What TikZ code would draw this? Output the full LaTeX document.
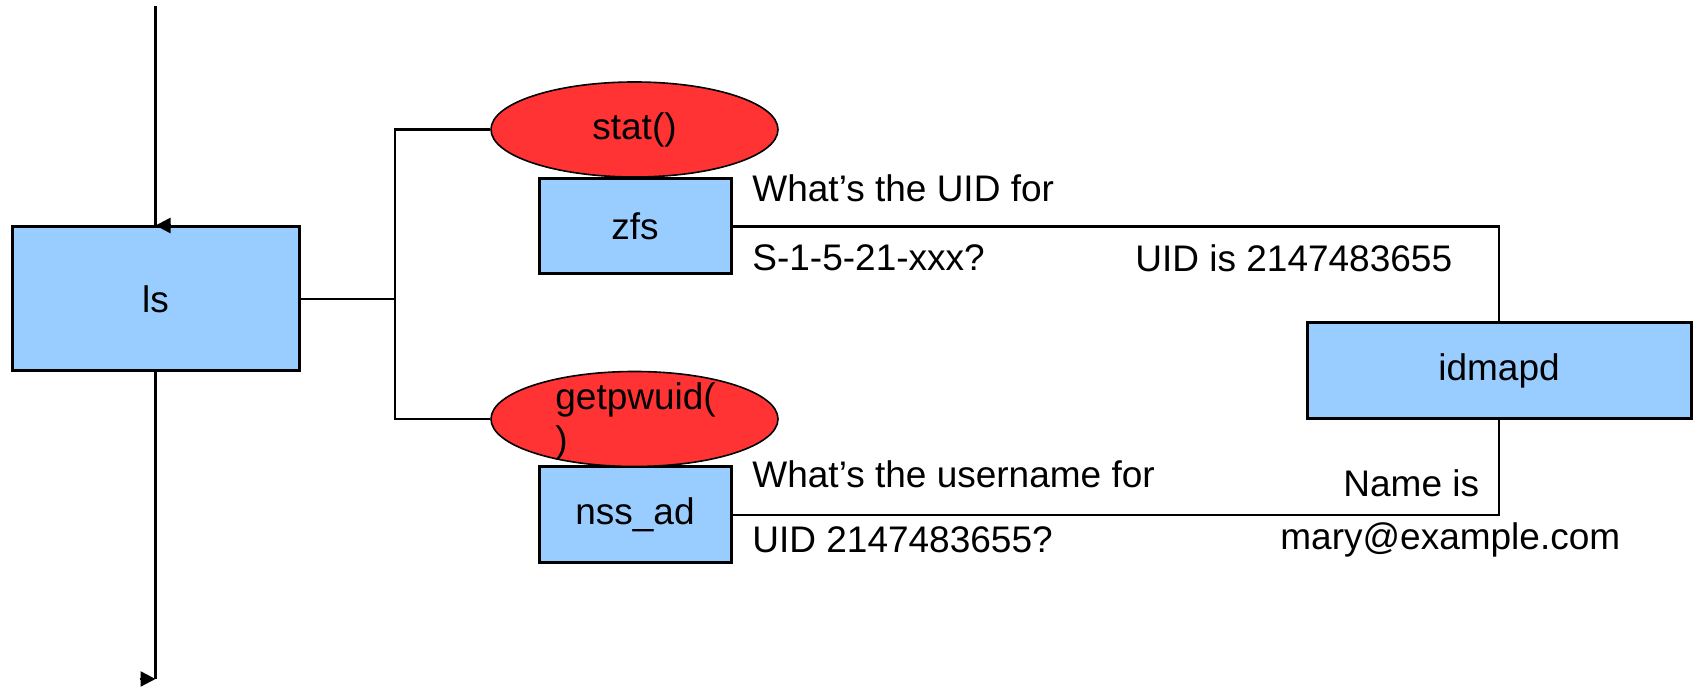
\documentclass[tikz,border=0pt]{standalone}
\usepackage{fontspec}
\setmainfont{Liberation Sans}
\usetikzlibrary{shapes.geometric,arrows.meta}
\definecolor{procblue}{RGB}{153,204,255}
\definecolor{callred}{RGB}{255,51,51}
\tikzset{
  proc/.style={draw=black, line width=1.5pt, fill=procblue, rectangle, inner sep=0pt},
  call/.style={draw=black, line width=0.8pt, fill=callred, ellipse, inner sep=0pt,
               minimum width=143.5pt, minimum height=47.5pt},
  wire/.style={draw=black, line width=1.25pt},
  note/.style={anchor=base west, inner sep=0pt},
  tip/.style={wire, -{Triangle[length=7.5pt,width=7.5pt]}},
}
\begin{document}
\begin{tikzpicture}[x=0.5pt, y=-0.5pt, font=\fontsize{18.5}{22}\selectfont]
\useasboundingbox (0,0) rectangle (1698,688);

% processes
\node[proc, minimum width=143.5pt, minimum height=72pt] (ls) at (155.5,299) {ls};
\node[proc, minimum width=96pt, minimum height=47.5pt] (zfs) at (635,226.5) {zfs};
\node[proc, minimum width=96pt, minimum height=48pt] (nss) at (635,515) {nss\_ad};
\node[proc, minimum width=192pt, minimum height=48pt] (idmapd) at (1499,371) {idmapd};

% system calls
\node[call] (stat) at (634.5,129.5) {stat()};
\node[call] (getpw) at (634.5,419) {};
\node[note] (getpwa) at (555,410) {getpwuid(};
\node[note] (getpwb) at (555,453) {)};

% main flow of ls
\coordinate (top) at (155.5,6);
\coordinate (bot) at (155.5,679);
\draw[wire] (top) -- (ls.north);
\draw[tip] ([xshift=7.5pt]ls.north) -- (ls.north);
\draw[wire] (ls.south) -- (bot);
\draw[tip] ([xshift=-8pt]bot) -- (bot);

% branches to the calls
\coordinate (j) at (395,299);
\draw[wire] (ls.east) -- (j);
\draw[wire] (stat.west) -| (j) |- (getpw.west);

% lookups through idmapd
\draw[wire] (zfs.east) -| (idmapd.north);
\draw[wire] (nss.east) -| (idmapd.south);

% messages
\node[note] (q1a) at (752,202) {What’s the UID for};
\node[note] (q1b) at (752,271) {S-1-5-21-xxx?};
\node[note] (r1) at (1135,272) {UID is 2147483655};
\node[note] (q2a) at (752,488) {What’s the username for};
\node[note] (q2b) at (752,553) {UID 2147483655?};
\node[note] (r2a) at (1343,497) {Name is};
\node[note] (r2b) at (1280,550) {mary@example.com};
\end{tikzpicture}
\end{document}
